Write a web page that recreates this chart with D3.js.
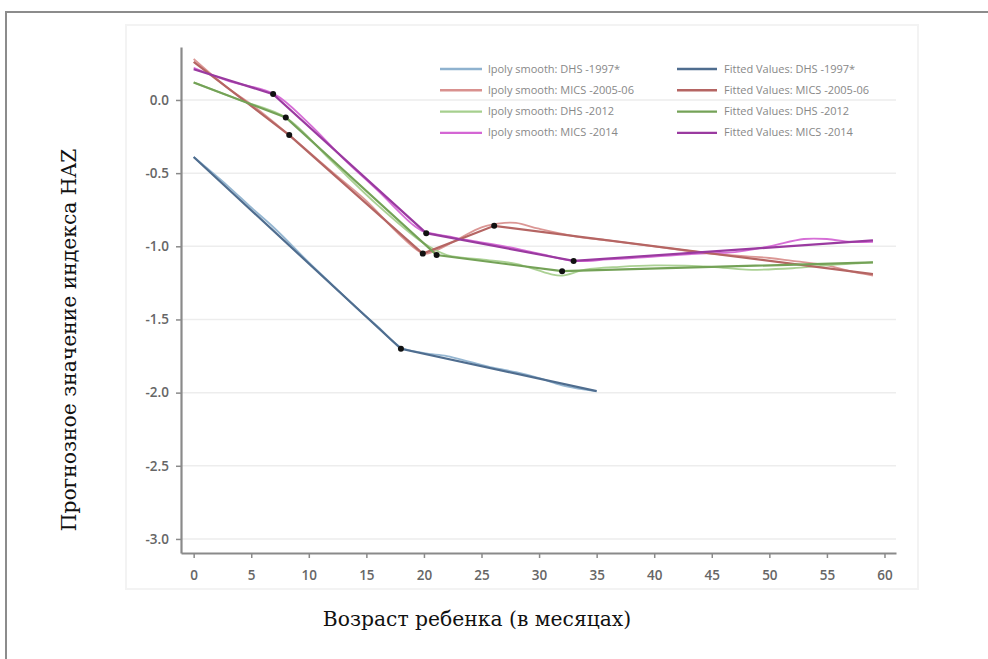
<!DOCTYPE html>
<html><head><meta charset="utf-8">
<script src="https://cdn.jsdelivr.net/npm/d3@7"></script>
<style>html,body{margin:0;padding:0;background:#fff;} svg{display:block;}</style>
</head><body>
<svg id="chart" width="988" height="659"></svg>
<script>
// ---- Data ----
const xTicks = [0,5,10,15,20,25,30,35,40,45,50,55,60];
const yTicks = [0.0,-0.5,-1.0,-1.5,-2.0,-2.5,-3.0];
const seriesNames = ["DHS -1997*","MICS -2005-06","DHS -2012","MICS -2014"];
const smoothColors = ["#8fb2cf","#d9918f","#a6cf8e","#d466d4"];
const fittedColors = ["#4f6d8f","#b56563","#74a257","#9a3aa0"];

// lpoly smooth series: [age, value]
const lpolyDHS1997 = [[0,-0.39],[3,-0.59],[5,-0.735],[7,-0.875],[10,-1.11],[12,-1.26],[14,-1.41],[16,-1.55],[18,-1.69],[20,-1.73],[22,-1.75],[24,-1.79],[26,-1.83],[28,-1.86],[30,-1.90],[32,-1.95],[34,-1.98],[35,-1.99]];
const lpolyMICS2005 = [[0,0.28],[3,0.08],[5,-0.03],[8,-0.22],[12,-0.49],[15,-0.69],[18,-0.93],[20,-1.05],[21,-1.03],[23,-0.95],[25,-0.87],[27,-0.84],[28,-0.84],[30,-0.88],[33,-0.93],[36,-0.96],[40,-1.00],[45,-1.05],[50,-1.08],[52,-1.10],[55,-1.13],[57,-1.17],[59,-1.20]];
const lpolyDHS2012 = [[0,0.12],[4,0.00],[8,-0.12],[12,-0.42],[16,-0.72],[20,-0.98],[22,-1.06],[25,-1.09],[28,-1.12],[31,-1.19],[32,-1.20],[34,-1.16],[37,-1.14],[40,-1.13],[45,-1.14],[48,-1.16],[52,-1.15],[55,-1.13],[59,-1.11]];
const lpolyMICS2014 = [[0,0.22],[3,0.13],[7,0.04],[10,-0.16],[13,-0.40],[16,-0.62],[19,-0.85],[20,-0.90],[22,-0.93],[24,-0.96],[27,-1.00],[30,-1.05],[33,-1.10],[36,-1.09],[40,-1.07],[44,-1.05],[47,-1.04],[50,-1.00],[53,-0.95],[55,-0.95],[57,-0.97],[59,-0.97]];

// fitted values (linear splines); knots marked with dots
const fitDHS1997 = [[0,-0.39],[18,-1.70],[35,-1.99]];
const fitMICS2005 = [[0,0.26],[8.3,-0.24],[19.9,-1.05],[26.1,-0.86],[59,-1.19]];
const fitDHS2012 = [[0,0.12],[8.0,-0.12],[21.1,-1.06],[32.0,-1.17],[59,-1.11]];
const fitMICS2014 = [[0,0.21],[6.9,0.04],[20.2,-0.91],[33.0,-1.10],[59,-0.96]];
const knotDHS1997 = [[18,-1.70]];
const knotMICS2005 = [[8.3,-0.24],[19.9,-1.05],[26.1,-0.86]];
const knotDHS2012 = [[8.0,-0.12],[21.1,-1.06],[32.0,-1.17]];
const knotMICS2014 = [[6.9,0.04],[20.2,-0.91],[33.0,-1.10]];

const lpolyAll = [lpolyDHS1997,lpolyMICS2005,lpolyDHS2012,lpolyMICS2014];
const fitAll = [fitDHS1997,fitMICS2005,fitDHS2012,fitMICS2014];
const knotAll = [knotDHS1997,knotMICS2005,knotDHS2012,knotMICS2014];

const xTitle = "Возраст ребенка (в месяцах)";
const yTitle = "Прогнозное значение индекса HAZ";

// ---- Drawing ----
const svg = d3.select("#chart");
// outer frame
svg.append("rect").attr("x",6).attr("y",12).attr("width",1100).attr("height",800)
  .attr("fill","none").attr("stroke","#8c8c8c").attr("stroke-width",2);
// faint embedded image panel edge
svg.append("rect").attr("x",126).attr("y",25).attr("width",792).attr("height",564)
  .attr("fill","none").attr("stroke","#f3f3f3").attr("stroke-width",2);

const x = d3.scaleLinear().domain([-1.1,61]).range([181,896]);
const y = d3.scaleLinear().domain([-3.096,0.362]).range([553,47]);

// gridlines
svg.append("g").selectAll("line").data(yTicks).join("line")
  .attr("x1",x(-1.1)).attr("x2",x(61)).attr("y1",d=>y(d)).attr("y2",d=>y(d))
  .attr("stroke","#ededed").attr("stroke-width",1.5);

const fmt = d=>d3.format(".1f")(d).replace("−","-");
const gx = svg.append("g").attr("transform",`translate(0,${y(-3.096)})`)
  .call(d3.axisBottom(x).tickValues(xTicks).tickSize(5).tickSizeOuter(0).tickPadding(12));
const gy = svg.append("g").attr("transform",`translate(${x(-1.1)},0)`)
  .call(d3.axisLeft(y).tickValues(yTicks).tickFormat(fmt).tickSize(5).tickSizeOuter(0).tickPadding(7));
[gx,gy].forEach(g=>{
  g.select(".domain").attr("stroke","#8a8a8a").attr("stroke-width",2.2);
  g.selectAll(".tick line").attr("stroke","#8a8a8a").attr("stroke-width",1.5);
  g.selectAll(".tick text").attr("fill","#666").attr("font-family","'Open Sans', sans-serif").attr("font-size",13.5).attr("font-weight",600);
});

const line = d3.line().x(d=>x(d[0])).y(d=>y(d[1]));
// smooth lines
lpolyAll.forEach((s,i)=>{
  svg.append("path").datum(s).attr("d",line.curve(d3.curveCatmullRom))
    .attr("fill","none").attr("stroke",smoothColors[i]).attr("stroke-width",1.8).attr("opacity",0.95);
});
// fitted lines
const lineLin = d3.line().x(d=>x(d[0])).y(d=>y(d[1]));
fitAll.forEach((s,i)=>{
  svg.append("path").datum(s).attr("d",lineLin)
    .attr("fill","none").attr("stroke",fittedColors[i]).attr("stroke-width",2.2);
});
// knots
knotAll.forEach(k=>{
  svg.append("g").selectAll("circle").data(k).join("circle")
    .attr("cx",d=>x(d[0])).attr("cy",d=>y(d[1])).attr("r",3).attr("fill","#111");
});

// legend
const leg = svg.append("g").attr("font-family","'Open Sans', sans-serif").attr("font-size",11).attr("fill","#888");
seriesNames.forEach((n,i)=>{
  const yy = 69 + i*21.3;
  leg.append("line").attr("x1",440).attr("x2",482).attr("y1",yy).attr("y2",yy)
    .attr("stroke",smoothColors[i]).attr("stroke-width",2.4);
  leg.append("text").attr("x",488).attr("y",yy+3.5).text("lpoly smooth: "+n);
  leg.append("line").attr("x1",677).attr("x2",717).attr("y1",yy).attr("y2",yy)
    .attr("stroke",fittedColors[i]).attr("stroke-width",2.4);
  leg.append("text").attr("x",724).attr("y",yy+3.5).text("Fitted Values: "+n);
});

// titles
svg.append("text").attr("x",477).attr("y",626).attr("text-anchor","middle")
  .attr("font-family","'DejaVu Serif', serif").attr("font-size",20.3).attr("fill","#111").text(xTitle);
svg.append("text").attr("transform","translate(76,340) rotate(-90)").attr("text-anchor","middle")
  .attr("font-family","'DejaVu Serif', serif").attr("font-size",20.3).attr("fill","#111").text(yTitle);
</script>
</body></html>
